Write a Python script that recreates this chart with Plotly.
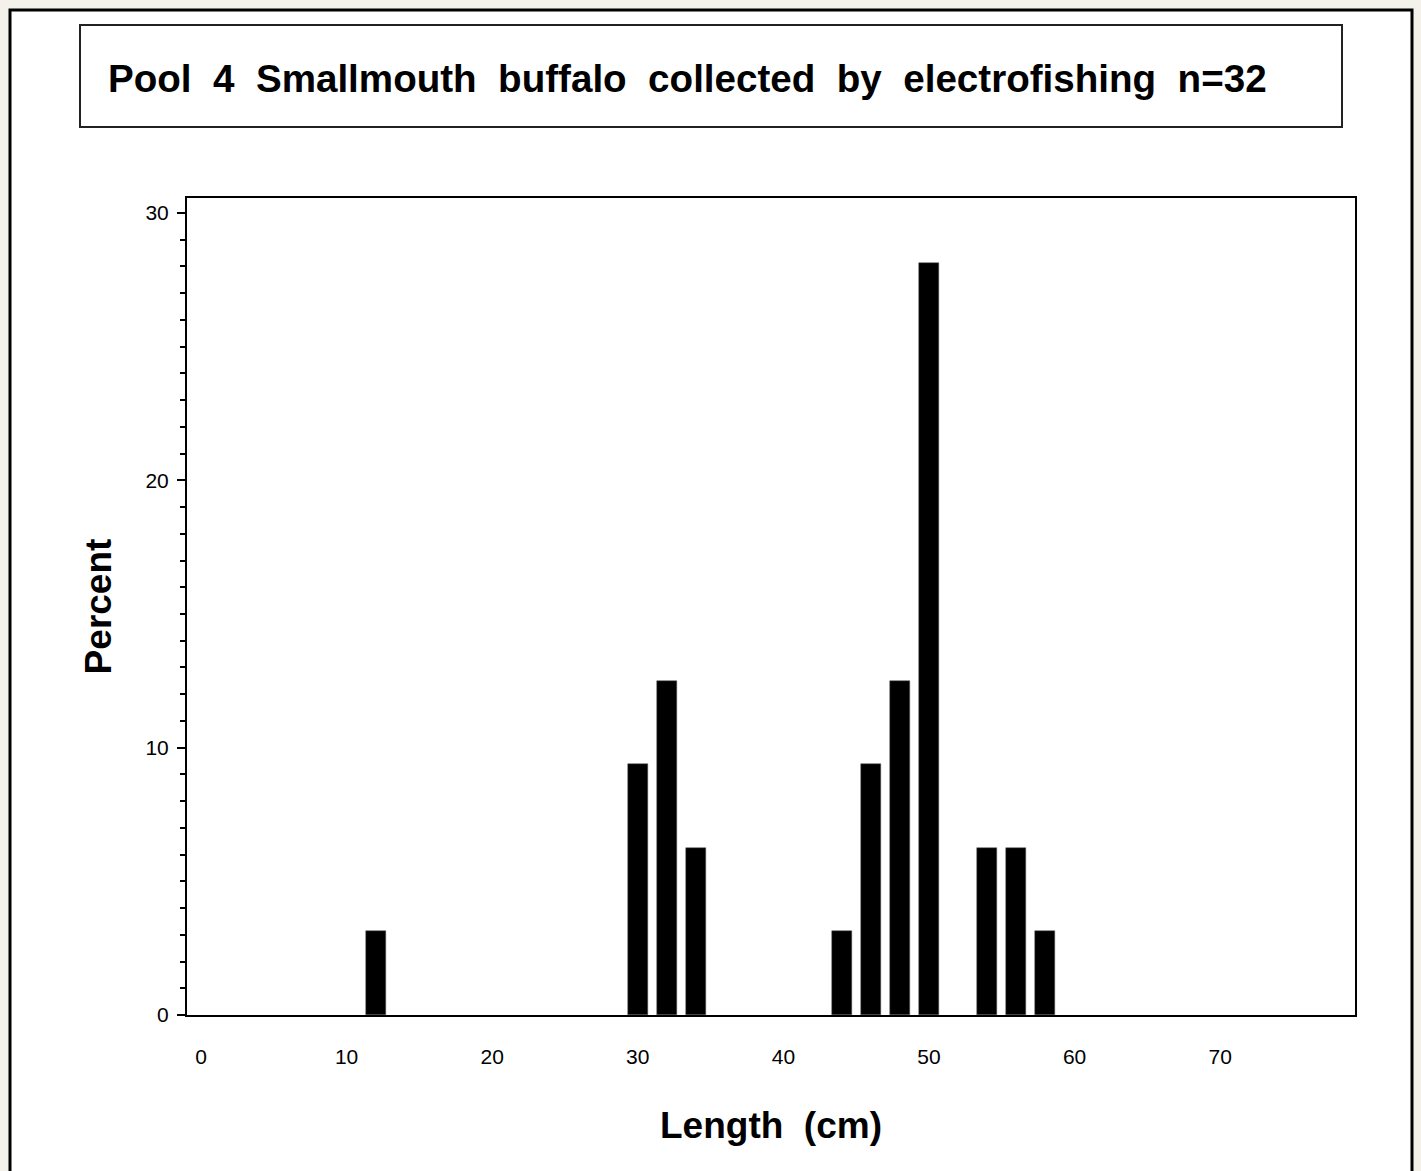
import plotly.graph_objects as go

# Data
length_cm = [12, 30, 32, 34, 44, 46, 48, 50, 54, 56, 58]
percent = [3.125, 9.375, 12.5, 6.25, 3.125, 9.375, 12.5, 28.125, 6.25, 6.25, 3.125]
x_ticks = [0, 10, 20, 30, 40, 50, 60, 70]
y_ticks = [0, 10, 20, 30]

W, H = 1421, 1171
L, R, T, B = 187, 66, 198, 156
PW, PH = W - L - R, H - T - B

def px(x):
    return (x - L) / PW

def py(y):
    return (H - B - y) / PH

FONT = "Liberation Sans"

fig = go.Figure()
fig.add_trace(go.Bar(
    x=length_cm, y=percent, width=1.37,
    marker=dict(color="black", line=dict(color="#555555", width=0.5)),
    showlegend=False,
))

shapes = [
    # outer white panel
    dict(type="rect", xref="paper", yref="paper",
         x0=px(10), x1=px(1412), y0=py(1190), y1=py(10),
         fillcolor="white", line=dict(color="black", width=3), layer="below"),
    # title box
    dict(type="rect", xref="paper", yref="paper",
         x0=px(80), x1=px(1342), y0=py(127), y1=py(25),
         fillcolor="white", line=dict(color="#222222", width=2), layer="below"),
]

annotations = [
    dict(text="<b>Pool\u00a0\u00a04\u00a0\u00a0Smallmouth\u00a0\u00a0buffalo\u00a0\u00a0collected\u00a0\u00a0by\u00a0\u00a0electrofishing\u00a0\u00a0n=32</b>",
         xref="paper", yref="paper", x=px(106), y=py(79),
         xanchor="left", yanchor="middle", showarrow=False,
         font=dict(family=FONT, size=38.6, color="black")),
]

fig.update_layout(
    width=W, height=H,
    margin=dict(l=L, r=R, t=T, b=B),
    paper_bgcolor="#f4f1ea",
    plot_bgcolor="white",
    shapes=shapes,
    annotations=annotations,
    bargap=0,
    xaxis=dict(
        range=[-0.96, 79.26], tickvals=x_ticks, ticktext=[str(v) for v in x_ticks],
        ticks="", showgrid=False, zeroline=False,
        showline=True, linecolor="black", linewidth=2, mirror=True,
        ticklabelstandoff=22,
        tickfont=dict(family=FONT, size=21, color="black"),
        title=dict(text="<b>Length\u00a0\u00a0(cm)</b>", standoff=45,
                   font=dict(family=FONT, size=37, color="black")),
    ),
    yaxis=dict(
        range=[0, 30.56], tickvals=y_ticks, ticktext=[str(v) for v in y_ticks],
        ticks="outside", ticklen=8, tickwidth=2, tickcolor="black",
        minor=dict(dtick=1, ticks="outside", ticklen=5, tickwidth=2, tickcolor="black", showgrid=False),
        showgrid=False, zeroline=False,
        showline=True, linecolor="black", linewidth=2, mirror=True,
        ticklabelstandoff=4,
        tickfont=dict(family=FONT, size=21, color="black"),
        title=dict(text="<b>Percent</b>", standoff=22,
                   font=dict(family=FONT, size=37, color="black")),
    ),
)

fig.write_html("out.html",
               config={"displayModeBar": False},
               post_script="document.body.style.margin='0';document.body.style.overflow='hidden';")
